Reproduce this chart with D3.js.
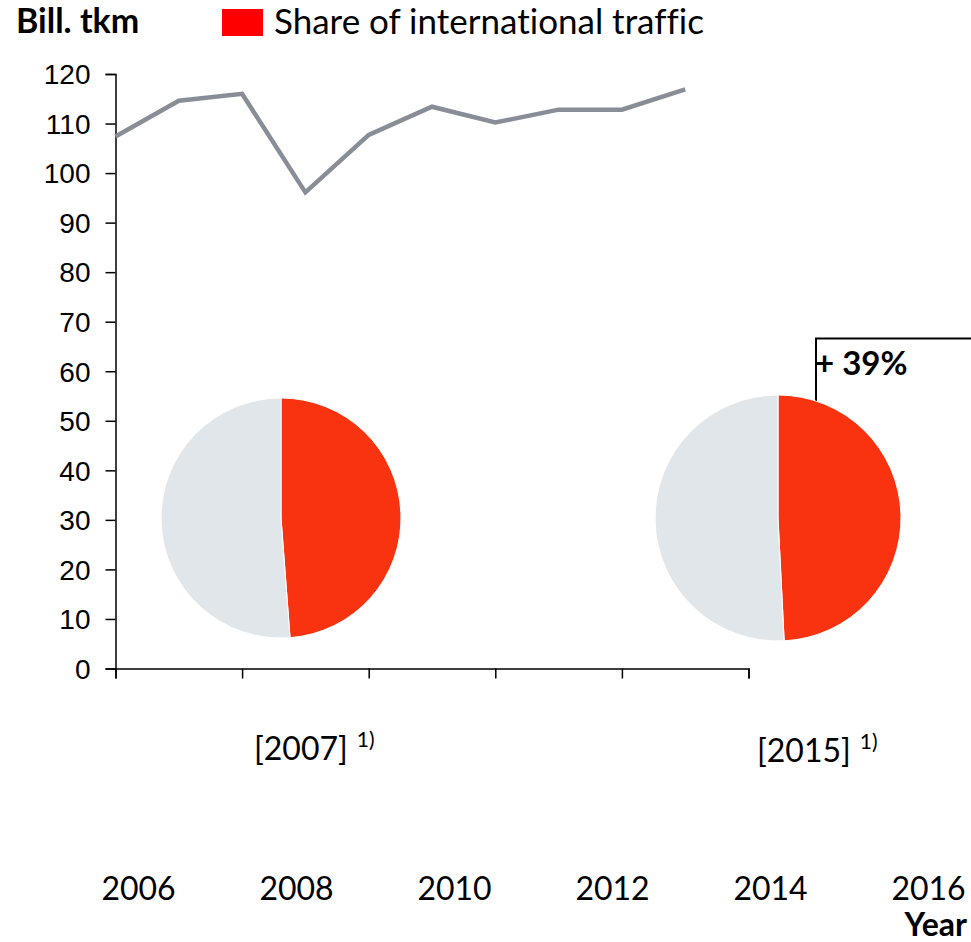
<!DOCTYPE html>
<html>
<head>
<meta charset="utf-8">
<script src="https://cdn.jsdelivr.net/npm/d3@7"></script>
<style>
body { margin: 0; background: #fff; }
svg { display: block; }
text { font-family: Lato, "Open Sans", sans-serif; fill: #000; font-variant-ligatures: none; }
</style>
</head>
<body>
<svg id="chart"></svg>
<script>
// data
const years = [2006, 2007, 2008, 2009, 2010, 2011, 2012, 2013, 2014, 2015];
const tkm = [107.4, 114.6, 116.0, 96.1, 107.7, 113.4, 110.2, 112.8, 112.8, 116.9];
const yTickValues = [0, 10, 20, 30, 40, 50, 60, 70, 80, 90, 100, 110, 120];
const xTickValues = [2006, 2008, 2010, 2012, 2014, 2016];
const yearLabels = ["2006", "2008", "2010", "2012", "2014", "2016"];
const pieLabels = ["[2007]", "[2015]"];
const intlShare = [48.8, 49.2];   // % international traffic
const growthLabel = "+ 39%";

const width = 971, height = 942;
const svg = d3.select("#chart").attr("width", width).attr("height", height);

const x = d3.scaleLinear().domain([2006, 2016]).range([115.5, 748.5]);
const y = d3.scaleLinear().domain([0, 120]).range([668.5, 74]);
// the year labels sit on their own, wider spacing
const xLab = d3.scaleLinear().domain([2006, 2016]).range([138.5, 928.5]);

// y axis
const yAxis = svg.append("g")
	.attr("transform", "translate(" + x(2006) + ",0)")
	.call(d3.axisLeft(y).tickValues(yTickValues).tickSize(10).tickPadding(15));
yAxis.selectAll("text")
	.style("font-family", "'Liberation Sans', Arial, sans-serif")
	.style("font-size", "28px")
	.attr("dy", "0.35em");

// x axis, ticks only
const xAxis = svg.append("g")
	.attr("transform", "translate(0," + y(0) + ")")
	.call(d3.axisBottom(x).tickValues(xTickValues).tickSize(10).tickFormat(""));

svg.selectAll(".domain, .tick line").attr("stroke", "#000").attr("stroke-width", 1.5);

// year labels
svg.append("g").selectAll("text")
	.data(xTickValues)
	.join("text")
	.attr("x", d => xLab(d))
	.attr("y", 900)
	.attr("text-anchor", "middle")
	.style("font-size", "32px")
	.text((d, i) => yearLabels[i]);

svg.append("text")
	.attr("x", 967).attr("y", 936)
	.attr("text-anchor", "end")
	.style("font-size", "32px").style("font-weight", "bold")
	.text("Year");

// line
const line = d3.line().x((d, i) => x(years[i])).y(d => y(d));
svg.append("path")
	.datum(tkm)
	.attr("fill", "none")
	.attr("stroke", "#898D98")
	.attr("stroke-width", 4.5)
	.attr("d", line);

// legend
svg.append("text")
	.attr("x", 16).attr("y", 33)
	.style("font-size", "34px").style("font-weight", "bold")
	.text("Bill. tkm");
svg.append("rect")
	.attr("x", 222).attr("y", 9).attr("width", 41).attr("height", 27)
	.attr("fill", "#FF0000");
svg.append("text")
	.attr("x", 274).attr("y", 34)
	.style("font-size", "35px")
	.text("Share of international traffic");

// growth bracket
svg.append("path")
	.attr("d", "M816,405V338.5H971")
	.attr("fill", "none").attr("stroke", "#000").attr("stroke-width", 2);
svg.append("text")
	.attr("x", 815).attr("y", 375)
	.style("font-size", "33px").style("font-weight", "bold")
	.text(growthLabel);

// pies
const pieLayout = [
	{cx: 281, cy: 518, r: 120, lx: 254, ly: 760},
	{cx: 778, cy: 518, r: 123, lx: 757, ly: 762}
];
const pie = d3.pie().sort(null);
intlShare.forEach((s, i) => {
	const L = pieLayout[i];
	const arc = d3.arc().innerRadius(0).outerRadius(L.r);
	const g = svg.append("g").attr("transform", "translate(" + L.cx + "," + L.cy + ")");
	g.selectAll("path")
		.data(pie([s, 100 - s]))
		.join("path")
		.attr("d", arc)
		.attr("fill", (d, j) => j === 0 ? "#F93210" : "#E1E6EA")
		.attr("stroke", "#fff")
		.attr("stroke-width", 1);

	const t = svg.append("text")
		.attr("x", L.lx).attr("y", L.ly)
		.style("font-size", "32px")
		.text(pieLabels[i]);
	t.append("tspan")
		.attr("dx", 9).attr("dy", -13)
		.style("font-size", "21px")
		.text("1)");
});
</script>
</body>
</html>
